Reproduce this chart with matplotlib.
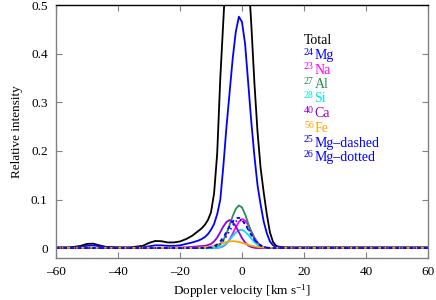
import matplotlib
matplotlib.use("Agg")
import matplotlib.pyplot as plt

plt.rcParams['font.family'] = ['Liberation Serif', 'DejaVu Serif']
plt.rcParams['mathtext.fontset'] = 'custom'
plt.rcParams['mathtext.rm'] = 'Liberation Serif'
plt.rcParams['mathtext.it'] = 'Liberation Serif:italic'

velocity = [-60, -56, -54, -52, -50, -48, -46, -44, -40, -36,
            -32, -30, -28, -26, -24, -22, -20, -18, -16, -14,
            -13, -12, -11, -10, -9, -8, -7, -6, -5, -4,
            -3, -2, -1, 0, 1, 2, 3, 4, 5, 6,
            7, 8, 9, 10, 11, 12, 14, 20, 30, 40,
            50, 60]

total = [0.002, 0.002, 0.003, 0.005, 0.009, 0.0095, 0.006, 0.003, 0.002, 0.002,
         0.005, 0.011, 0.015, 0.0145, 0.012, 0.012, 0.014, 0.019, 0.026, 0.036,
         0.041, 0.048, 0.058, 0.074, 0.113, 0.195, 0.35, 0.47, 0.59, 0.70,
         0.79, 0.84, 0.84, 0.78, 0.68, 0.565, 0.46, 0.34, 0.24, 0.165,
         0.115, 0.07, 0.033, 0.013, 0.005, 0.003, 0.002, 0.002, 0.002, 0.002,
         0.002, 0.002]

mg24 = [0.001, 0.001, 0.0015, 0.003, 0.005, 0.006, 0.004, 0.002, 0.001, 0.001,
        0.002, 0.004, 0.006, 0.006, 0.005, 0.005, 0.006, 0.009, 0.012, 0.016,
        0.019, 0.023, 0.029, 0.038, 0.050, 0.070, 0.10, 0.17, 0.25, 0.32,
        0.39, 0.445, 0.476, 0.465, 0.42, 0.34, 0.26, 0.19, 0.13, 0.09,
        0.055, 0.031, 0.014, 0.006, 0.003, 0.002, 0.001, 0.001, 0.001, 0.001,
        0.001, 0.001]

na23 = [0.0005, 0.0005, 0.0005, 0.0005, 0.0005, 0.0005, 0.0005, 0.0005, 0.0005, 0.0005,
        0.0005, 0.0005, 0.0005, 0.0005, 0.0005, 0.0005, 0.0005, 0.0005, 0.0005, 0.0005,
        0.0005, 0.0005, 0.0005, 0.0005, 0.0005, 0.0008, 0.0017, 0.0043, 0.0094, 0.018,
        0.030, 0.043, 0.054, 0.060, 0.057, 0.048, 0.035, 0.022, 0.012, 0.006,
        0.0025, 0.001, 0.0005, 0.0005, 0.0005, 0.0005, 0.0005, 0.0005, 0.0005, 0.0005,
        0.0005, 0.0005]

al27 = [0.0005, 0.0005, 0.0005, 0.0005, 0.0005, 0.0005, 0.0005, 0.0005, 0.0005, 0.0005,
        0.0005, 0.0005, 0.0005, 0.0005, 0.0005, 0.0005, 0.0005, 0.0005, 0.0005, 0.0005,
        0.0005, 0.0005, 0.0005, 0.0006, 0.0013, 0.0035, 0.008, 0.017, 0.030, 0.048,
        0.066, 0.081, 0.088, 0.084, 0.070, 0.051, 0.033, 0.019, 0.0095, 0.004,
        0.0017, 0.0006, 0.0005, 0.0005, 0.0005, 0.0005, 0.0005, 0.0005, 0.0005, 0.0005,
        0.0005, 0.0005]

si28 = [0.0005, 0.0005, 0.0005, 0.0005, 0.0005, 0.0005, 0.0005, 0.0005, 0.0005, 0.0005,
        0.0005, 0.0005, 0.0005, 0.0005, 0.0005, 0.0005, 0.0005, 0.0005, 0.0005, 0.0005,
        0.0005, 0.0005, 0.0005, 0.0005, 0.0006, 0.0011, 0.0026, 0.0055, 0.010, 0.017,
        0.025, 0.032, 0.037, 0.038, 0.034, 0.028, 0.020, 0.0127, 0.0071, 0.0036,
        0.0016, 0.0006, 0.0005, 0.0005, 0.0005, 0.0005, 0.0005, 0.0005, 0.0005, 0.0005,
        0.0005, 0.0005]

ca40 = [0.0005, 0.0005, 0.0005, 0.0005, 0.0005, 0.0005, 0.0005, 0.0005, 0.0005, 0.0005,
        0.0005, 0.0005, 0.0006, 0.0007, 0.0008, 0.001, 0.0015, 0.002, 0.003, 0.004,
        0.0045, 0.005, 0.0065, 0.009, 0.014, 0.022, 0.033, 0.045, 0.054, 0.058,
        0.054, 0.045, 0.033, 0.021, 0.0118, 0.0058, 0.0026, 0.001, 0.0005, 0.0005,
        0.0005, 0.0005, 0.0005, 0.0005, 0.0005, 0.0005, 0.0005, 0.0005, 0.0005, 0.0005,
        0.0005, 0.0005]

fe56 = [0.001, 0.001, 0.001, 0.001, 0.001, 0.001, 0.001, 0.001, 0.001, 0.001,
        0.001, 0.001, 0.001, 0.001, 0.001, 0.001, 0.001, 0.001, 0.001, 0.0013,
        0.0016, 0.0021, 0.0028, 0.0039, 0.0054, 0.0072, 0.0092, 0.0112, 0.0129, 0.0141,
        0.0145, 0.0141, 0.0129, 0.0112, 0.0092, 0.0072, 0.0054, 0.0039, 0.0028, 0.0021,
        0.0016, 0.0013, 0.0011, 0.001, 0.001, 0.001, 0.001, 0.001, 0.001, 0.001,
        0.001, 0.001]

mg25 = [0.0005, 0.0005, 0.0005, 0.0005, 0.0005, 0.0005, 0.0005, 0.0005, 0.0005, 0.0005,
        0.0005, 0.0005, 0.0005, 0.0005, 0.0005, 0.0005, 0.0005, 0.0005, 0.0005, 0.0005,
        0.0005, 0.0006, 0.001, 0.0019, 0.0041, 0.008, 0.0142, 0.0229, 0.0336, 0.045,
        0.0552, 0.0616, 0.0627, 0.0583, 0.0494, 0.0382, 0.0271, 0.0173, 0.0102, 0.0055,
        0.0027, 0.0012, 0.0005, 0.0005, 0.0005, 0.0005, 0.0005, 0.0005, 0.0005, 0.0005,
        0.0005, 0.0005]

mg26 = [0.0005, 0.0005, 0.0005, 0.0005, 0.0005, 0.0005, 0.0005, 0.0005, 0.0005, 0.0005,
        0.0005, 0.0005, 0.0005, 0.0005, 0.0005, 0.0005, 0.0005, 0.0005, 0.0005, 0.0005,
        0.0005, 0.0005, 0.0005, 0.0009, 0.0022, 0.0047, 0.009, 0.0158, 0.025, 0.0358,
        0.0465, 0.055, 0.0589, 0.0572, 0.0504, 0.0402, 0.0291, 0.0192, 0.0115, 0.0062,
        0.003, 0.0013, 0.0005, 0.0005, 0.0005, 0.0005, 0.0005, 0.0005, 0.0005, 0.0005,
        0.0005, 0.0005]

legend_mass = ['', '24', '23', '27', '28', '40', '56', '25', '26']
legend_names = ['Total', 'Mg', 'Na', 'Al', 'Si', 'Ca', 'Fe', 'Mg–dashed', 'Mg–dotted']
x_ticks = [-60, -40, -20, 0, 20, 40, 60]
y_ticks = [0, 0.1, 0.2, 0.3, 0.4, 0.5]
y_ticklabels = ['0', '0.1', '0.2', '0.3', '0.4', '0.5']

c_total = 'black'
c_mg = '#0000ff'
c_na = '#ff00ff'
c_al = '#2e8b57'
c_si = '#00e5ee'
c_ca = '#9400d3'
c_fe = '#ffa500'

fig = plt.figure(figsize=(4.36, 3.0), dpi=100)
ax = fig.add_axes([56/436, 1-258/300, (428-56)/436, (258-5)/300])

lw = 1.3
ax.plot(velocity, total, color=c_total, lw=lw)
ax.plot(velocity, mg24, color=c_mg, lw=lw)
ax.plot(velocity, na23, color=c_na, lw=lw)
ax.plot(velocity, al27, color=c_al, lw=lw)
ax.plot(velocity, si28, color=c_si, lw=lw)
ax.plot(velocity, ca40, color=c_ca, lw=lw)
ax.plot(velocity, fe56, color=c_fe, lw=lw)
ax.plot(velocity, mg25, color=c_mg, lw=lw, dashes=(2.0, 2.0))
ax.plot(velocity, mg26, color=c_mg, lw=lw, dashes=(0.8, 1.8))

ax.set_xlim(-60, 60)
ax.set_ylim(-0.02, 0.5)
ax.set_xticks(x_ticks)
ax.set_yticks(y_ticks)
ax.set_xticklabels([str(t).replace('-', '–') for t in x_ticks])
ax.set_yticklabels(y_ticklabels)
ax.tick_params(direction='in', top=True, right=True, length=4, width=0.8,
               color='#808080', labelsize=9.5, pad=6)
for side in ['left', 'bottom', 'right']:
    ax.spines[side].set_color('#808080')
ax.spines['top'].set_color('black')
for s in ax.spines.values():
    s.set_linewidth(1.0)

ax.set_xlabel(r'Doppler velocity [km s$^{-1}$]', fontsize=9.5, labelpad=3)
ax.set_ylabel('Relative intensity', fontsize=9.5, labelpad=6)

leg_colors = [c_total, c_mg, c_na, c_al, c_si, c_ca, c_fe, c_mg, c_mg]
leg_y = [41, 56, 70, 85, 99, 114, 129, 143, 158]
W, H = 436.0, 300.0
for mass, name, col, yy in zip(legend_mass, legend_names, leg_colors, leg_y):
    base = yy + 3.5
    if mass:
        fig.text(304/W, 1-(base-4.5)/H, mass, color=col, fontsize=7.2,
                 va='baseline', ha='left')
        fig.text(314.5/W, 1-base/H, name, color=col, fontsize=10,
                 va='baseline', ha='left')
    else:
        fig.text(304/W, 1-base/H, name, color=col, fontsize=10,
                 va='baseline', ha='left')

fig.savefig('out.png', dpi=100)
